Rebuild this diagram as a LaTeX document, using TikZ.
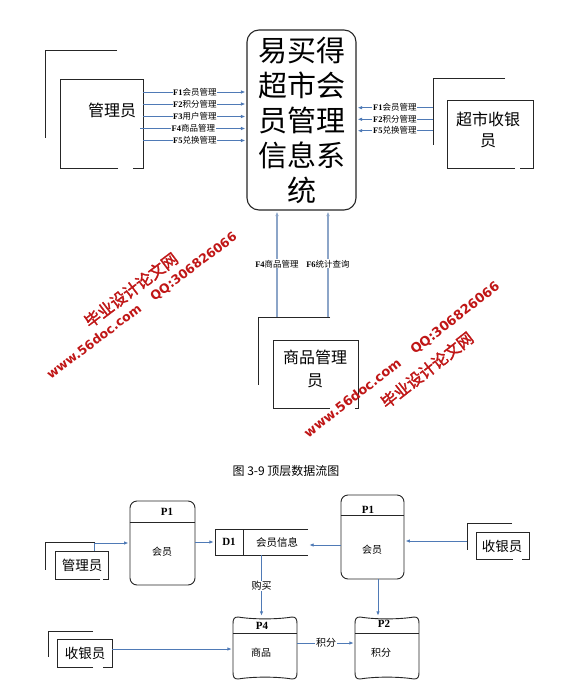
\documentclass[tikz,border=0pt]{standalone}
\usepackage{fontspec}
\setmainfont{Liberation Serif}
\newfontfamily\cjk{Noto Sans CJK SC}
\newfontfamily\cjkb[FakeBold=2]{Noto Sans CJK SC}
\newfontfamily\wmf{DejaVu Sans}
\usetikzlibrary{arrows.meta,calc}
\definecolor{flowc}{RGB}{79,122,182}
\definecolor{flowl}{RGB}{140,165,200}
\definecolor{wmred}{RGB}{192,22,22}
\newcommand\fl[2]{\textbf{#1}{\cjk #2}}
\newcommand\scrollbox[4]{%
  \draw[edge] (#1,#2+7) .. controls (#1,#2+2) and (#1+1,#2) .. (#1+5,#2)
    .. controls (#1+20,#2+2.5) and (#3-20,#2+2.5) .. (#3-5,#2)
    .. controls (#3-1,#2) and (#3,#2+2) .. (#3,#2+7)
    -- (#3,#4-7)
    .. controls (#3,#4-2) and (#3-1,#4) .. (#3-5,#4)
    .. controls (#3-20,#4-2.5) and (#1+20,#4-2.5) .. (#1+5,#4)
    .. controls (#1+1,#4) and (#1,#4-2) .. (#1,#4-7) -- cycle;}
\begin{document}
\begin{tikzpicture}[x=1pt,y=-1pt,
  flow/.style={draw=flowc, line width=0.9pt, -{Latex[length=4.5pt,width=3.5pt]}, shorten >=1pt},
  flowlt/.style={draw=flowl, line width=1.1pt, -{Latex[length=4.5pt,width=3.5pt]}, shorten >=1pt},
  edge/.style={draw=black!85, line width=0.9pt},
  flab/.style={fill=white, inner sep=0.6pt, font=\fontsize{8.5}{9}\selectfont},
  blab/.style={fill=white, inner sep=0.8pt, font=\cjk\fontsize{10}{11}\selectfont},
  etext/.style={inner sep=0, align=center, font=\cjk\fontsize{16}{21}\selectfont},
  etextb/.style={inner sep=0, font=\cjk\fontsize{13.5}{15}\selectfont},
  ptxt/.style={inner sep=0, font=\bfseries\fontsize{11}{12}\selectfont},
  btxt/.style={inner sep=0, font=\cjk\fontsize{10}{11}\selectfont},
  hold/.style={inner sep=0, draw=none},
  procbox/.style={draw=black!85, line width=0.9pt, rounded corners=7pt, inner sep=0},
  wm/.style={inner sep=0, text=wmred, font=\wmf\bfseries\fontsize{12.5}{12.5}\selectfont},
  wmc/.style={inner sep=0, text=wmred, font=\cjkb\fontsize{16}{16}\selectfont}
]
\fill[white] (0,0) rectangle (564,688);
\useasboundingbox (0,0) rectangle (564,688);

% ---------- top: context diagram ----------
\node[draw=black!85, line width=1.1pt, rounded corners=12pt, minimum width=109pt,
      minimum height=180pt, inner sep=0, align=center,
      font=\cjk\fontsize{29}{35}\selectfont] (sys) at (301.5,120)
      {易买得\\超市会\\员管理\\信息系\\统};

% 管理员
\node[hold, minimum width=83pt, minimum height=89pt] (adm) at (101.5,123.5) {};
\draw[edge] (118,168) -| (60,79) -| (143,168) -- (133,168);
\draw[edge] (117,50) -| (45,138);
\node[etext] (admt) at (112,110) {管理员};

\coordinate (ya) at (0,92);
\coordinate (yb) at (0,104);
\coordinate (yc) at (0,116.5);
\coordinate (yd) at (0,128.5);
\coordinate (ye) at (0,140.5);
\draw[flow] (adm.east |- ya) -- (sys.west |- ya) node[midway,flab] (la) {\fl{F1}{会员管理}};
\draw[flow] (adm.east |- yb) -- (sys.west |- yb) node[midway,flab] (lb) {\fl{F2}{积分管理}};
\draw[flow] (adm.east |- yc) -- (sys.west |- yc) node[midway,flab] (lc) {\fl{F3}{用户管理}};
\draw[flow] ([xshift=-3pt]adm.east |- yd) -- (sys.west |- yd) node[midway,flab] (ld) {\fl{F4}{商品管理}};
\draw[flow] (adm.east |- ye) -- (sys.west |- ye) node[midway,flab] (le) {\fl{F5}{兑换管理}};

% 超市收银员
\node[hold, minimum width=86pt, minimum height=68pt] (cas) at (490,134) {};
\draw[edge] (515,168) -| (447,100) -| (533,168) -- (520,168);
\draw[edge] (505,78) -| (433,145);
\coordinate (cshad) at (433,78);
\node[etext] (cast) at (488,129.5) {超市收银\\员};
\coordinate (yr1) at (0,107.7);
\coordinate (yr2) at (0,119.3);
\coordinate (yr3) at (0,130.7);
\draw[flow] (cshad |- yr1) -- (sys.east |- yr1) node[midway,flab] (lr1) {\fl{F1}{会员管理}};
\draw[flow] (cshad |- yr2) -- (sys.east |- yr2) node[midway,flab] (lr2) {\fl{F2}{积分管理}};
\draw[flow] (cshad |- yr3) -- (sys.east |- yr3) node[midway,flab] (lr3) {\fl{F5}{兑换管理}};

% 商品管理员
\node[hold, minimum width=85pt, minimum height=68pt] (spm) at (315.5,374) {};
\draw[edge] (330,408) -| (273,340) -| (358,408) -- (355,408);
\draw[edge] (330,317) -| (258,385);
\coordinate (sshad) at (258,317);
\node[etext, font=\cjk\fontsize{16}{23}\selectfont] (spmt) at (315,368.5) {商品管理\\员};
\coordinate (xa) at (277,0);
\coordinate (xb) at (328,0);
\draw[flowlt] (xa |- sshad) -- (xa |- sys.south) node[midway,flab] (lf4) {\fl{F4}{商品管理}};
\draw[flowlt] (xb |- sshad) -- (xb |- sys.south) node[midway,flab] (lf6) {\fl{F6}{统计查询}};

% caption
\node[inner sep=0, font=\cjk\fontsize{12}{13}\selectfont] (cap) at (286,471) {图 3-9 顶层数据流图};

% ---------- bottom: level diagram ----------
% 管理员 (bottom)
\node[hold, minimum width=53pt, minimum height=28pt] (adm2) at (81.5,565) {};
\draw[edge] (100,579) -| (55,551) -| (108,579) -- (103,579);
\draw[edge] (95,542) -| (45,570);
\node[etextb] (adm2t) at (82,565) {管理员};

% P1 left
\node[procbox, minimum width=65pt, minimum height=84pt] (p1a) at (162.5,543) {};
\draw[edge] (p1a.west |- 0,522) -- (p1a.east |- 0,522);
\node[ptxt] (p1at) at (167,512) {P1};
\node[btxt] (p1ab) at (162,552) {会员};
\draw[flow] ([xshift=40pt]adm2.north west) |- (p1a.west);

% D1
\node[hold, minimum width=93pt, minimum height=26pt] (d1) at (261.5,542) {};
\draw[edge] (308,529) -- (215,529) -- (215,555) -- (308,555);
\draw[edge] (243,529) -- (243,555);
\node[ptxt] (d1t) at (229,542) {D1};
\node[btxt, font=\cjk\fontsize{10.5}{11}\selectfont] (d1n) at (277,542) {会员信息};
\draw[flow] (p1a.east |- d1.west) -- (d1.west);

% P1 right
\node[procbox, minimum width=63pt, minimum height=84pt] (p1b) at (372.5,537) {};
\draw[edge] (p1b.west |- 0,515) -- (p1b.east |- 0,515);
\node[ptxt] (p1bt) at (368,509.5) {P1};
\node[btxt] (p1bb) at (372,550) {会员};
\coordinate (yq1) at (0,545);
\draw[flow] (p1b.west |- yq1) -- (d1.east |- yq1);

% 收银员 right
\node[hold, minimum width=53pt, minimum height=27pt] (syr) at (502.5,545.5) {};
\draw[edge] (513,559) -| (476,532) -| (529,559) -- (522,559);
\draw[edge] (512,523) -| (467,550);
\coordinate (rshad) at (467,523);
\node[etextb] (syrt) at (502,546) {收银员};
\coordinate (ys) at (0,541);
\draw[flow] (rshad |- ys) -- (p1b.east |- ys);

% P4 and P2
\node[hold, minimum width=64pt, minimum height=62pt] (p4) at (265,648) {};
\scrollbox{233}{617}{297}{679}
\draw[edge] (233,633) -- (297,633);
\node[ptxt] (p4t) at (262,625.5) {P4};
\node[btxt] (p4b) at (261,653) {商品};

\node[hold, minimum width=64pt, minimum height=62pt] (p2) at (387,648) {};
\scrollbox{355}{617}{419}{679}
\draw[edge] (355,633) -- (419,633);
\node[ptxt] (p2t) at (384,623.5) {P2};
\node[btxt] (p2b) at (381,653) {积分};

\draw[flow] (d1.south) -- (d1.south |- p4.north) node[midway,blab] (lgm) {购买};
\coordinate (xp) at (378,0);
\draw[flow] (xp |- p1b.south) -- (xp |- p2.north);

% 收银员 bottom left
\node[hold, minimum width=55pt, minimum height=28pt] (syy) at (84.5,653) {};
\draw[edge] (93,667) -| (57,639) -| (112,667) -- (103,667);
\draw[edge] (93,631) -| (48,657);
\node[etextb] (syyt) at (85,653) {收银员};
\coordinate (yq) at (0,649);
\draw[flow] (syy.east |- yq) -- (p4.west |- yq);

\coordinate (yj) at (0,643);
\draw[flow] (p4.east |- yj) -- (p2.west |- yj) node[midway,blab] (ljf) {积分};

% ---------- watermarks ----------
\node[wm, rotate=37] (wm1a) at (142,306) {www.56doc.com\hspace{15pt}QQ:306826066};
\node[wmc, rotate=37] (wm1b) at (131,290) {毕业设计论文网};
\node[wm, rotate=38, font=\wmf\bfseries\fontsize{13}{13}\selectfont] (wm2a) at (402,360) {www.56doc.com\hspace{16pt}QQ:306826066};
\node[wmc, rotate=38] (wm2b) at (427,370) {毕业设计论文网};
\end{tikzpicture}
\end{document}
